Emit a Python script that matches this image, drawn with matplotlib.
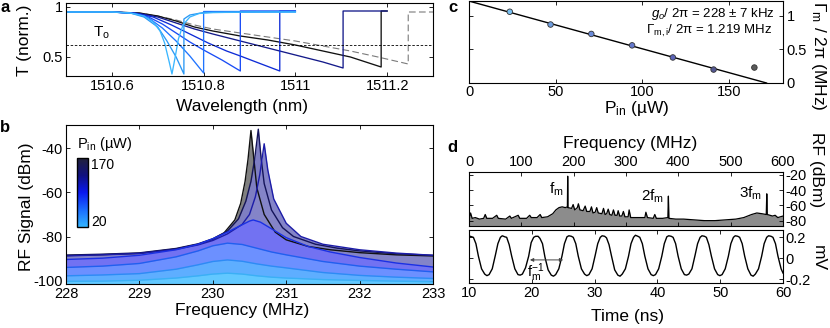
import numpy as np
import matplotlib
matplotlib.use("Agg")
import matplotlib.pyplot as plt
from matplotlib.colors import LinearSegmentedColormap, Normalize
from matplotlib.cm import ScalarMappable

W, H = 830, 328

# ---- panel a: transmission sweeps (7 powers + dashed) ----
a_wl_1 = [1510.50, 1510.60, 1510.64, 1510.67, 1510.69, 1510.705, 1510.715, 1510.725, 1510.731,
          1510.738, 1510.745, 1510.755, 1510.77, 1510.79, 1510.82, 1510.90, 1511.00]
a_t_1 = [0.95, 0.95, 0.94, 0.91, 0.85, 0.76, 0.64, 0.45, 0.33, 0.50, 0.68, 0.82, 0.90, 0.935, 0.945, 0.95, 0.95]
a_wl_2 = [1510.50, 1510.60, 1510.64, 1510.67, 1510.70, 1510.72, 1510.74, 1510.757, 1510.757, 1510.77, 1510.80, 1511.00]
a_t_2 = [0.95, 0.95, 0.94, 0.90, 0.80, 0.66, 0.50, 0.33, 0.88, 0.92, 0.945, 0.95]
a_wl_3 = [1510.50, 1510.60, 1510.65, 1510.68, 1510.71, 1510.74, 1510.77, 1510.80, 1510.80, 1511.00]
a_t_3 = [0.95, 0.95, 0.935, 0.89, 0.79, 0.66, 0.51, 0.34, 0.955, 0.955]
a_wl_4 = [1510.50, 1510.60, 1510.65, 1510.68, 1510.71, 1510.74, 1510.77, 1510.80, 1510.84, 1510.88, 1510.88, 1511.00]
a_t_4 = [0.95, 0.95, 0.935, 0.90, 0.83, 0.74, 0.65, 0.57, 0.47, 0.36, 0.96, 0.96]
a_wl_5 = [1510.50, 1510.60, 1510.65, 1510.69, 1510.73, 1510.77, 1510.81, 1510.85, 1510.88, 1510.92, 1510.966, 1510.966, 1511.00]
a_t_5 = [0.95, 0.95, 0.94, 0.90, 0.82, 0.73, 0.64, 0.56, 0.51, 0.44, 0.36, 0.96, 0.96]
a_wl_6 = [1510.50, 1510.60, 1510.66, 1510.70, 1510.74, 1510.78, 1510.82, 1510.88, 1510.94, 1511.00, 1511.06, 1511.104, 1511.104, 1511.20]
a_t_6 = [0.95, 0.95, 0.935, 0.90, 0.84, 0.78, 0.73, 0.66, 0.59, 0.52, 0.45, 0.39, 0.96, 0.96]
a_wl_7 = [1510.50, 1510.60, 1510.66, 1510.70, 1510.74, 1510.78, 1510.82, 1510.88, 1510.94, 1511.00, 1511.06, 1511.12, 1511.187, 1511.187, 1511.20]
a_t_7 = [0.95, 0.95, 0.94, 0.91, 0.86, 0.80, 0.76, 0.71, 0.67, 0.62, 0.56, 0.50, 0.40, 0.96, 0.96]
a_wl_dash = [1510.50, 1510.60, 1510.66, 1510.70, 1510.74, 1510.78, 1510.82, 1510.88, 1510.94, 1511.00, 1511.06, 1511.12, 1511.18, 1511.246, 1511.246, 1511.30]
a_t_dash = [0.95, 0.95, 0.94, 0.91, 0.87, 0.82, 0.78, 0.74, 0.70, 0.66, 0.61, 0.56, 0.50, 0.43, 0.95, 0.95]
t_o = 0.62

# ---- panel b: RF spectra (low -> high power) ----
b_f_low = [228, 228.5, 229, 229.5, 229.8, 230.0, 230.2, 230.4, 230.6, 230.8, 231.0, 231.5, 232, 232.5, 233]
b_db_1 = [-100.3, -100.2, -99.8, -98.8, -97.8, -97.0, -96.6, -97.0, -97.8, -98.4, -98.8, -99.5, -99.9, -100.2, -100.5]
b_db_2 = [-97.8, -97.4, -96.8, -94.8, -92.8, -91.3, -90.6, -91.2, -92.4, -93.4, -94.2, -96.3, -97.6, -98.4, -99.0]
b_db_3 = [-94.0, -93.4, -92.2, -89.2, -86.5, -84.2, -83.0, -83.6, -85.3, -87.0, -88.3, -91.3, -93.4, -94.8, -96.0]
b_f_4 = [228, 228.5, 229, 229.5, 229.8, 230.0, 230.2, 230.35, 230.5, 230.55, 230.65, 230.8, 231.0, 231.3, 231.6, 232, 232.5, 233]
b_db_4 = [-90.4, -89.8, -88.5, -86.0, -83.5, -81.0, -78.0, -75.5, -73.0, -72.5, -73.5, -76.5, -80.5, -84.5, -87.0, -89.5, -92.0, -93.8]
b_f_5 = [228, 228.5, 229, 229.5, 229.8, 230.0, 230.2, 230.4, 230.5, 230.58, 230.64, 230.7, 230.75, 230.83, 231.0, 231.2, 231.5, 232, 232.5, 233]
b_db_5 = [-88.8, -88.3, -87.7, -85.8, -83.8, -81.8, -78.8, -74.5, -70, -62, -52, -38, -50, -63, -74, -80, -83.5, -86, -87.5, -88.5]
b_f_6 = [228, 228.5, 229, 229.5, 229.8, 230.0, 230.2, 230.35, 230.45, 230.52, 230.57, 230.62, 230.66, 230.7, 230.8, 230.95, 231.1, 231.4, 231.7, 232, 232.5, 233]
b_db_6 = [-88.4, -88.0, -87.4, -85.4, -83.3, -81.0, -77.5, -72, -64, -55, -45, -31.4, -45, -56, -68, -76, -80, -83.5, -85.3, -86.5, -87.8, -88.5]
b_f_7 = [228, 228.5, 229, 229.5, 229.8, 230.0, 230.15, 230.3, 230.38, 230.44, 230.48, 230.52, 230.56, 230.6, 230.7, 230.85, 231.0, 231.3, 231.6, 232, 232.5, 233]
b_db_7 = [-88.6, -88.2, -87.6, -85.6, -83.5, -81.2, -78.5, -72.5, -65, -55, -45, -32, -45, -58, -70, -78, -81.5, -84.5, -86, -87.3, -88.3, -88.8]
p_min, p_max = 20, 170

# ---- panel c: damping vs power ----
c_power = [23.5, 47, 70.5, 94, 117.5, 141, 164.5]
c_gamma = [1.06, 0.87, 0.73, 0.56, 0.38, 0.20, 0.23]
fit_power = [0, 171.5]
fit_gamma = [1.219, 0]

# ---- panel d: RF spectrum of lasing ----
d_f = [0, 3, 6, 12, 20, 28, 31, 34, 45, 53, 56, 70, 78, 81, 94, 97, 110, 116, 119, 130, 136, 139,
       150, 160, 166, 172, 178, 184, 188, 188.6, 189.2, 196, 199, 202, 207, 209, 212, 218, 222, 225,
       231, 234, 237, 241, 244, 247, 254, 257, 260, 263, 266, 269, 273, 276, 279, 283, 285, 288, 292,
       295, 298, 304, 306, 309, 320, 336, 338, 341, 352, 355, 358, 370, 380, 381, 382, 395, 410, 430,
       450, 470, 490, 510, 525, 540, 550, 560, 568, 569, 570, 580, 585, 590, 600]
d_db = [-78, -70, -77, -76, -78, -77, -72, -77, -77, -73, -77, -78, -74, -77, -73, -77, -77, -73, -76,
        -76, -72, -76, -75, -71, -66, -63, -62, -63, -62, -22, -63, -64, -59, -66, -63, -58, -66, -67,
        -61, -68, -68, -62, -70, -69, -63, -70, -71, -64, -72, -71, -65, -72, -73, -66, -73, -73, -67,
        -74, -74, -68, -75, -75, -66, -76, -76, -76, -69, -76, -77, -72, -77, -77, -76, -48, -77, -78,
        -78, -79, -80, -80, -79, -78, -76, -72, -70, -71, -72, -45, -72, -74, -73, -76, -74]

d_t = [10.0, 10.2, 10.7, 11.1, 11.5, 12.0, 12.5, 12.85, 13.2, 13.7,
       14.2, 14.6, 15.0, 15.3, 15.7, 16.0, 16.4, 16.8, 17.3, 17.8, 18.15, 18.5, 19.0,
       19.5, 19.9, 20.3, 20.6, 21.0, 21.3, 21.7, 22.1, 22.6, 23.1, 23.45, 23.8, 24.3,
       24.8, 25.2, 25.6, 25.9, 26.3, 26.6, 27.0, 27.4, 27.9, 28.4, 28.75, 29.1, 29.6,
       30.1, 30.5, 30.9, 31.2, 31.6, 31.9, 32.3, 32.7, 33.2, 33.7, 34.05, 34.4, 34.9,
       35.4, 35.8, 36.2, 36.5, 36.9, 37.2, 37.6, 38.0, 38.5, 39.0, 39.35, 39.7, 40.2,
       40.7, 41.1, 41.5, 41.8, 42.2, 42.5, 42.9, 43.3, 43.8, 44.3, 44.65, 45.0, 45.5,
       46.0, 46.4, 46.8, 47.1, 47.5, 47.8, 48.2, 48.6, 49.1, 49.6, 49.95, 50.3, 50.8,
       51.3, 51.7, 52.1, 52.4, 52.8, 53.1, 53.5, 53.9, 54.4, 54.9, 55.25, 55.6, 56.1,
       56.6, 57.0, 57.4, 57.7, 58.1, 58.4, 58.8, 59.2, 59.7, 60.0]
d_mv = [0.19, 0.21, 0.20, 0.14, 0.02, -0.10, -0.15, -0.165, -0.155, -0.10,
        0.03, 0.14, 0.20, 0.215, 0.205, 0.20, 0.13, 0.02, -0.10, -0.155, -0.16, -0.15, -0.09,
        0.02, 0.15, 0.20, 0.21, 0.21, 0.19, 0.14, 0.01, -0.11, -0.16, -0.17, -0.155, -0.10,
        0.02, 0.14, 0.205, 0.215, 0.21, 0.20, 0.14, 0.02, -0.10, -0.15, -0.165, -0.155, -0.10,
        0.03, 0.14, 0.20, 0.215, 0.21, 0.195, 0.13, 0.02, -0.11, -0.16, -0.17, -0.15, -0.10,
        0.02, 0.14, 0.20, 0.22, 0.21, 0.20, 0.14, 0.02, -0.10, -0.155, -0.165, -0.155, -0.10,
        0.02, 0.14, 0.205, 0.215, 0.21, 0.20, 0.14, 0.02, -0.10, -0.155, -0.16, -0.15, -0.10,
        0.03, 0.14, 0.20, 0.215, 0.21, 0.20, 0.13, 0.02, -0.10, -0.155, -0.165, -0.155, -0.10,
        0.02, 0.14, 0.20, 0.215, 0.21, 0.20, 0.14, 0.02, -0.10, -0.16, -0.17, -0.15, -0.10,
        0.02, 0.14, 0.20, 0.215, 0.21, 0.20, 0.14, 0.02, -0.10, -0.14]

# ---- style ----
plt.rcParams['font.family'] = ['Liberation Sans', 'DejaVu Sans']
plt.rcParams['mathtext.fontset'] = 'custom'
plt.rcParams['mathtext.rm'] = 'Liberation Sans'
plt.rcParams['mathtext.it'] = 'Liberation Sans:italic'
plt.rcParams['mathtext.bf'] = 'Liberation Sans:bold'
plt.rcParams['axes.unicode_minus'] = False
plt.rcParams['xtick.direction'] = 'in'
plt.rcParams['ytick.direction'] = 'in'
plt.rcParams['xtick.top'] = True
plt.rcParams['ytick.right'] = True
plt.rcParams['xtick.major.size'] = 3
plt.rcParams['ytick.major.size'] = 3
plt.rcParams['xtick.major.width'] = 0.6
plt.rcParams['ytick.major.width'] = 0.6
plt.rcParams['axes.linewidth'] = 0.8
plt.rcParams['xtick.labelsize'] = 10.5
plt.rcParams['ytick.labelsize'] = 10.5
plt.rcParams['xtick.major.pad'] = 2.5
plt.rcParams['ytick.major.pad'] = 2.5

LAB = 12.5


def box(x0, y0, x1, y1):
    return [x0 / W, 1 - y1 / H, (x1 - x0) / W, (y1 - y0) / H]


fig = plt.figure(figsize=(W / 100, H / 100), dpi=100)


def ftext(x, y, s, **kw):
    kw.setdefault('ha', 'center')
    kw.setdefault('va', 'center')
    fig.text(x / W, 1 - y / H, s, **kw)


line_cols = ['#3ab6ff', '#2a98f5', '#1f74ff', '#1a4cf5', '#0e2bd6', '#141a8a', '#111111']

# ---------------- a ----------------
ax_a = fig.add_axes(box(66, 3, 433, 76))
a_curves = [(a_wl_1, a_t_1), (a_wl_2, a_t_2), (a_wl_3, a_t_3), (a_wl_4, a_t_4),
            (a_wl_5, a_t_5), (a_wl_6, a_t_6), (a_wl_7, a_t_7)]
ax_a.plot(a_wl_dash, a_t_dash, color='#7a7a7a', lw=0.8, ls=(0, (6, 3)))
for (wl, tr), col in reversed(list(zip(a_curves, line_cols))):
    ax_a.plot(wl, tr, color=col, lw=0.95)
ax_a.axhline(t_o, color='k', lw=0.6, ls=(0, (3, 2)))
ax_a.set_xlim(1510.5, 1511.3)
ax_a.set_ylim(0.31, 1.04)
ax_a.set_xticks([1510.6, 1510.8, 1511.0, 1511.2])
ax_a.set_xticklabels(['1510.6', '1510.8', '1511', '1511.2'])
ax_a.set_yticks([0.5, 1])
ax_a.set_yticklabels(['0.5', '1'])
ftext(101, 33, 'T$_\\mathrm{o}$', fontsize=11)

# ---------------- b ----------------
ax_b = fig.add_axes(box(66, 125, 433, 284))
b_bottom = -101.5
b_curves = [(b_f_7, b_db_7, '#111111', '#808080'),
            (b_f_6, b_db_6, '#14145a', '#7e7ec2'),
            (b_f_5, b_db_5, '#1c1ca8', '#8484c8'),
            (b_f_4, b_db_4, '#1a30e6', '#7272f2'),
            (b_f_low, b_db_3, '#2060f0', '#6c90ff'),
            (b_f_low, b_db_2, '#2c8cf5', '#5eaeff'),
            (b_f_low, b_db_1, '#3ab0f5', '#62c8ff')]
for f, db, lc, fc in b_curves:
    ax_b.fill_between(f, db, b_bottom, color=fc, lw=0)
    ax_b.plot(f, db, color=lc, lw=1.0)
ax_b.set_xlim(228, 233)
ax_b.set_ylim(b_bottom, -29.5)
ax_b.set_xticks([228, 229, 230, 231, 232, 233])
ax_b.set_yticks([-100, -80, -60, -40])

cmap = LinearSegmentedColormap.from_list('pin', ['#33b5ff', '#1a6cff', '#0a18f0', '#101080', '#22223a'])
cax = fig.add_axes(box(77, 158, 88, 227))
cb = fig.colorbar(ScalarMappable(norm=Normalize(p_min, p_max), cmap=cmap), cax=cax)
cb.set_ticks([])
cb.outline.set_linewidth(1.0)
ftext(77, 144, 'P$_\\mathrm{in}$ (µW)', fontsize=10.5, ha='left')
ftext(91, 165, str(p_max), fontsize=10, ha='left')
ftext(91, 222, str(p_min), fontsize=10, ha='left')

# ---------------- c ----------------
ax_c = fig.add_axes(box(469, 1, 783, 83))
ax_c.plot(fit_power, fit_gamma, color='k', lw=1.0)
c_cols = ['#78bff0', '#6f9ee0', '#6a8ad8', '#6478cc', '#5c64b8', '#545892', '#5a5a5a']
ax_c.scatter(c_power, c_gamma, s=16, c=c_cols, edgecolors='#333333', linewidths=0.6, zorder=3)
ax_c.set_xlim(0, 181)
ax_c.set_ylim(0, 1.22)
ax_c.set_xticks([0, 50, 100, 150])
ax_c.set_yticks([0, 0.5, 1])
ax_c.set_yticklabels(['0', '0.5', '1'])
ax_c.tick_params(axis='y', labelleft=False, labelright=True)
ax_c.tick_params(axis='x', pad=1.5)
ftext(775, 14, '$g_o$/ 2π = 228 ± 7 kHz', fontsize=9.5, ha='right')
ftext(772, 31, 'Γ$_\\mathrm{m,i}$/ 2π = 1.219 MHz', fontsize=9.5, ha='right')

# ---------------- d (spectrum) ----------------
ax_s = fig.add_axes(box(469, 172, 783, 226))
s_bottom = -87
ax_s.fill_between(d_f, d_db, s_bottom, color='#8c8c8c', lw=0)
ax_s.plot(d_f, d_db, color='k', lw=0.9)
ax_s.set_xlim(0, 600)
ax_s.set_ylim(s_bottom, -16.5)
ax_s.set_xticks([0, 100, 200, 300, 400, 500, 600])
ax_s.set_yticks([-80, -60, -40, -20])
ax_s.tick_params(axis='x', labelbottom=False, labeltop=True, pad=2)
ax_s.tick_params(axis='y', labelleft=False, labelright=True, pad=2)
ftext(556, 189, 'f$_\\mathrm{m}$', fontsize=11)
ftext(653, 196, '2f$_\\mathrm{m}$', fontsize=11)
ftext(751, 193, '3f$_\\mathrm{m}$', fontsize=11)

# ---------------- d (time trace) ----------------
ax_t = fig.add_axes(box(469, 230, 783, 283))
ax_t.plot(d_t, d_mv, color='k', lw=1.0)
ax_t.set_xlim(10, 60)
ax_t.set_ylim(-0.235, 0.27)
ax_t.set_xticks([10, 20, 30, 40, 50, 60])
ax_t.set_yticks([-0.2, 0, 0.2])
ax_t.set_yticklabels(['-0.2', '0', '0.2'])
ax_t.tick_params(axis='y', labelleft=False, labelright=True, pad=2)
ax_t.annotate('', xy=(19.7, -0.015), xytext=(25.0, -0.015),
              arrowprops=dict(arrowstyle='<|-|>', lw=0.7, color='#444444',
                              shrinkA=0, shrinkB=0, mutation_scale=5))
ftext(536, 273, 'f$_\\mathrm{m}^{-1}$', fontsize=10.5)

# ---------------- axis labels ----------------
ftext(25, 40, 'T (norm.)', fontsize=LAB, rotation=90)
ftext(242, 107, 'Wavelength (nm)', fontsize=LAB)
ftext(26, 207, 'RF Signal (dBm)', fontsize=LAB, rotation=90)
ftext(242, 310, 'Frequency (MHz)', fontsize=LAB)
ftext(637, 109, 'P$_\\mathrm{in}$ (µW)', fontsize=LAB)
ftext(818, 56, 'Γ$_\\mathrm{m}$ / 2π (MHz)', fontsize=LAB, rotation=-90)
ftext(630, 144, 'Frequency (MHz)', fontsize=LAB)
ftext(816, 170, 'RF (dBm)', fontsize=LAB, rotation=-90)
ftext(818, 258, 'mV', fontsize=LAB, rotation=-90)
ftext(627, 317, 'Time (ns)', fontsize=LAB)

ftext(5, 8, 'a', fontsize=12, fontweight='bold')
ftext(5, 127, 'b', fontsize=12, fontweight='bold')
ftext(453, 8, 'c', fontsize=12, fontweight='bold')
ftext(452, 148, 'd', fontsize=12, fontweight='bold')

fig.savefig('out.png', dpi=100)
